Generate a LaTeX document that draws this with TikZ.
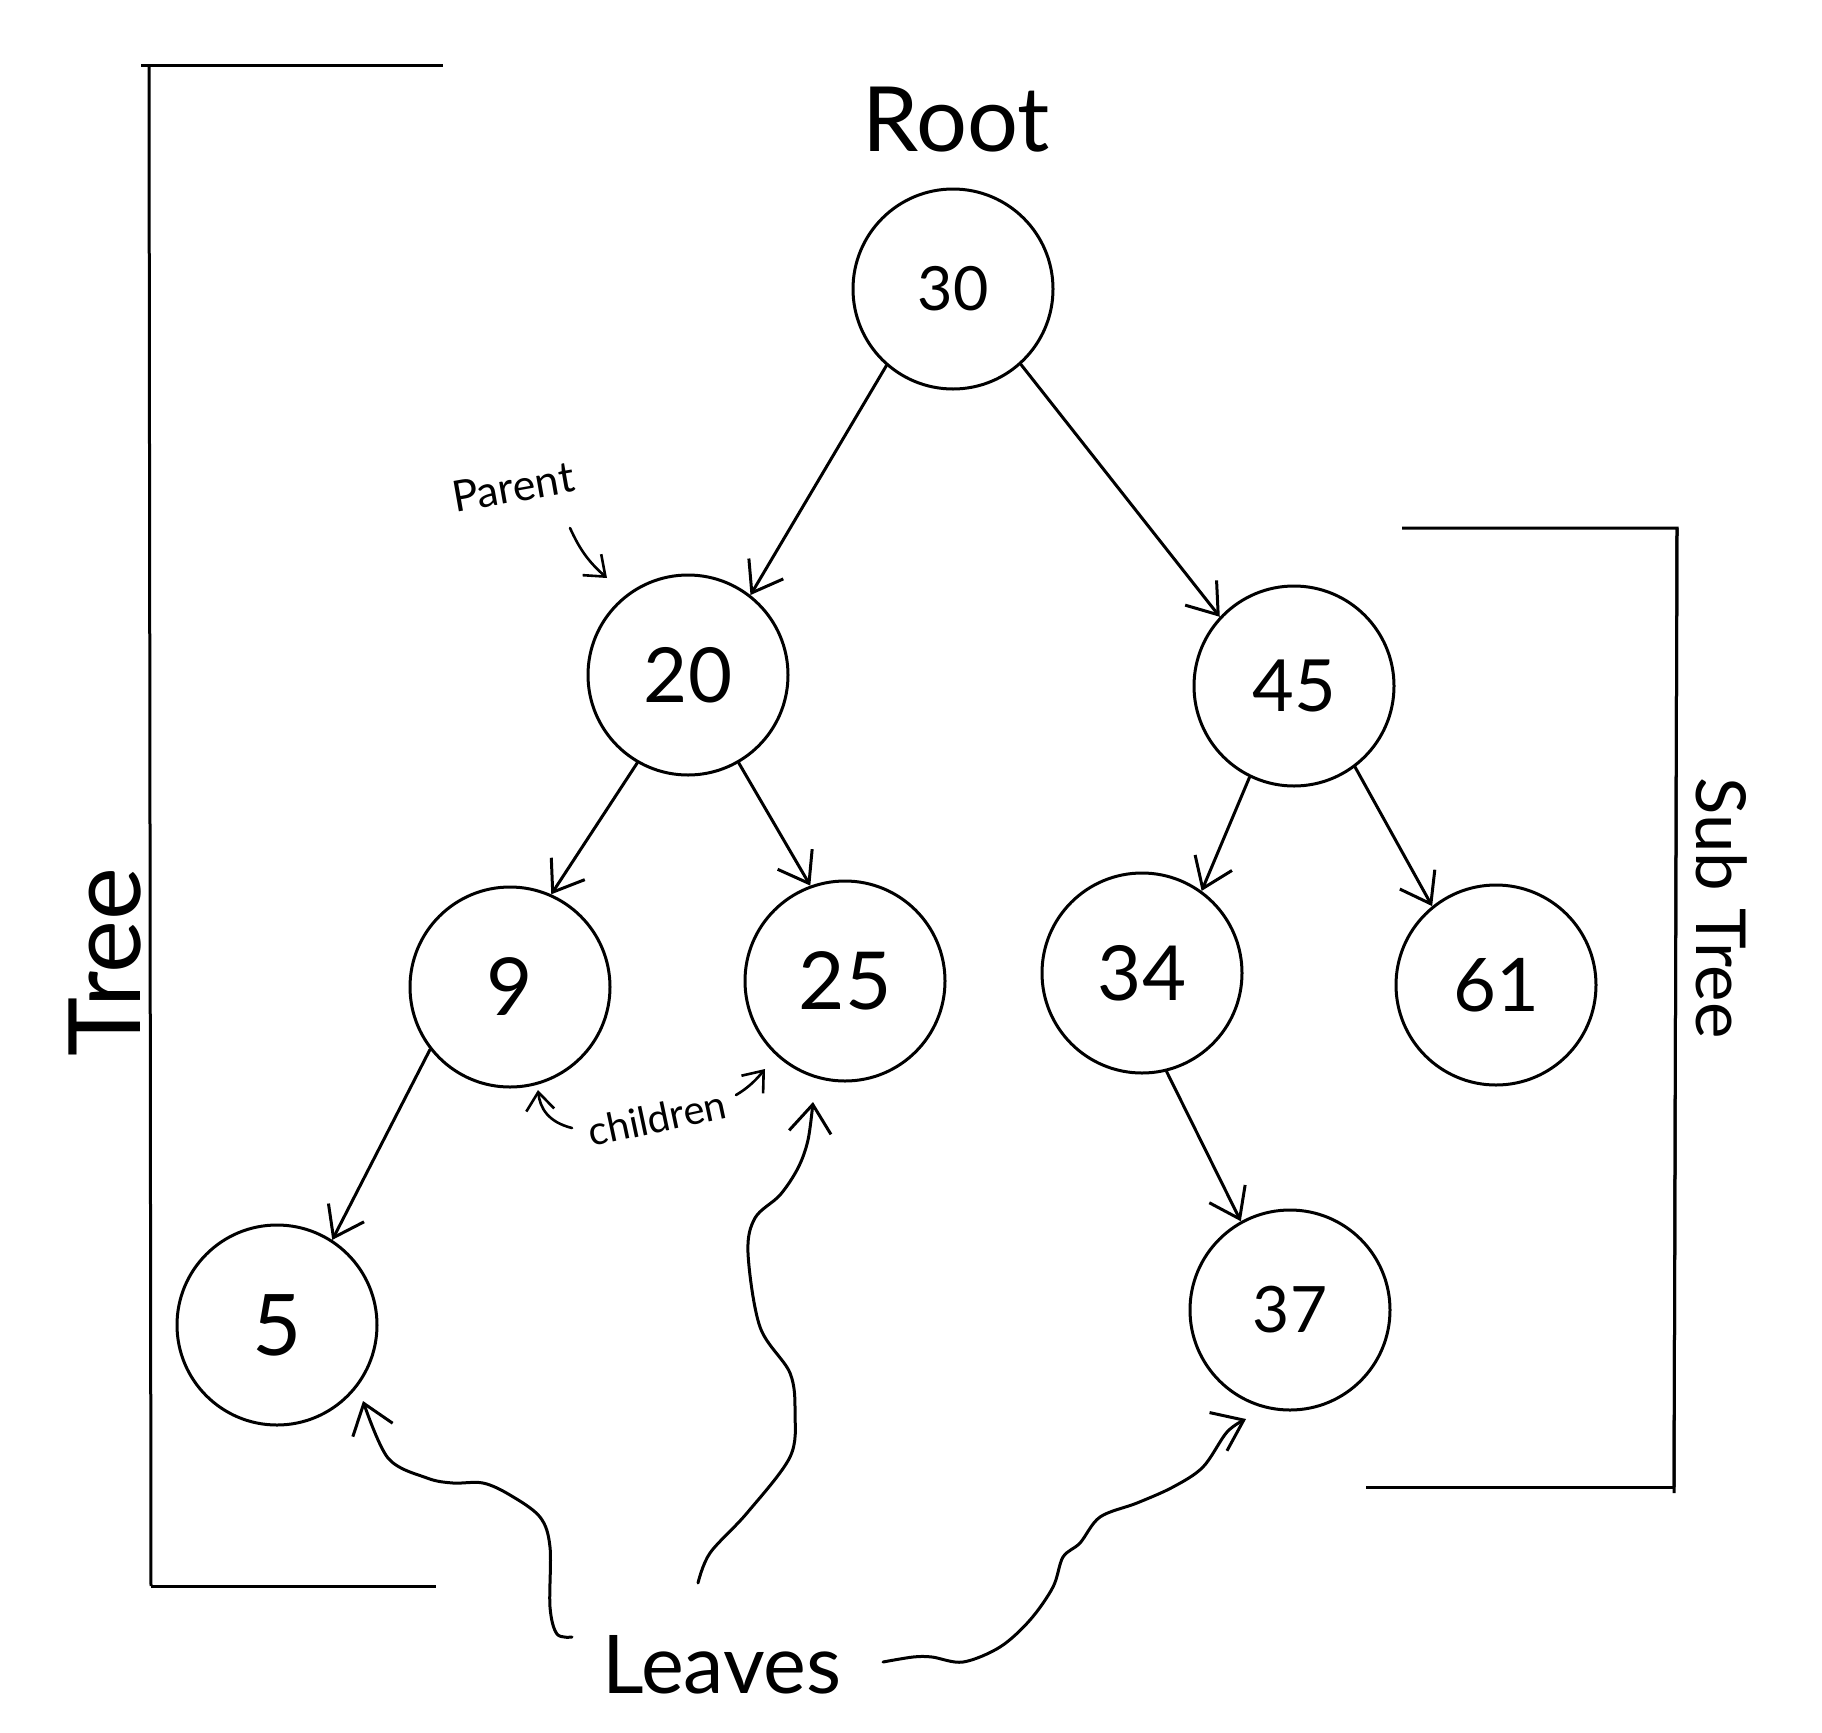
\documentclass[tikz,border=0pt]{standalone}
\usepackage{fontspec}
\setmainfont{Lato}
\usetikzlibrary{arrows.meta}
\newcommand\myfs[1]{\fontsize{#1}{#1}\selectfont}
\begin{document}
\begin{tikzpicture}[x=1pt,y=-1pt,
  tnode/.style={draw, circle, line width=3pt, minimum size=200pt, inner sep=0pt},
  edgearrow/.style={line width=3pt, line cap=round, -{Straight Barb[length=28pt,width=40pt,line width=3pt]}},
  curvearrow/.style={line width=3pt, line cap=round, line join=round, -{Straight Barb[length=28pt,width=42pt,line width=3pt]}},
  smallarrow/.style={line width=2.6pt, line cap=round, -{Straight Barb[length=18pt,width=28pt,line width=2.6pt]}},
  bracket/.style={line width=3pt},
  lbl/.style={inner sep=0pt}]
\fill[white] (0,0) rectangle (1822,1732);
\useasboundingbox (0,0) rectangle (1822,1732);

% tree nodes
\node[tnode, font=\myfs{61}] (n30) at (953,289) {30};
\node[tnode, font=\myfs{76}] (n20) at (688,675) {20};
\node[tnode, font=\myfs{72}] (n45) at (1294,686) {45};
\node[tnode, font=\myfs{80}] (n9)  at (510,987) {9};
\node[tnode, font=\myfs{80}] (n25) at (845,981) {25};
\node[tnode, font=\myfs{76}] (n34) at (1142,973) {34};
\node[tnode, font=\myfs{74}] (n61) at (1496,985) {61};
\node[tnode, font=\myfs{85}] (n5)  at (277,1325) {5};
\node[tnode, font=\myfs{64}] (n37) at (1290,1310) {37};

% edges
\draw[edgearrow] (n30.-131) -- (n20.52);
\draw[edgearrow] (n30.-48) -- (n45.137);
\draw[edgearrow] (n20.-120) -- (n9.66);
\draw[edgearrow] (n20.-60) -- (n25.110);
\draw[edgearrow] (n45.-116) -- (n34.54);
\draw[edgearrow] (n45.-53) -- (n61.129);
\draw[edgearrow] (n9.-142) -- (n5.57);
\draw[edgearrow] (n34.-76) -- (n37.119);

% labels
\node[lbl, font=\myfs{90}] (root) at (956,120) {Root};
\node[lbl, font=\myfs{43}, rotate=10] (parent) at (513,487) {Parent};
\node[lbl, font=\myfs{40}, rotate=12] (children) at (657,1118) {children};
\node[lbl, font=\myfs{100}, rotate=90] (tree) at (105,962) {Tree};
\node[lbl, font=\myfs{69}, rotate=-90] (subtree) at (1722,908) {Sub Tree};
\node[lbl, font=\myfs{81}, anchor=base] (leaves) at (722,1693) {Leaves};

% brackets
\coordinate (ta) at (443,65);
\coordinate (tb) at (149,65);
\coordinate (tc) at (151,1586);
\coordinate (td) at (436,1586);
\draw[bracket] (141,65) -- (ta);
\draw[bracket] (tb) -- (tc);
\draw[bracket] (tc) -- (td);
\coordinate (sa) at (1402,528);
\coordinate (sb) at (1677,528);
\coordinate (sc) at (1674,1493);
\coordinate (sd) at (1366,1487);
\draw[bracket] (sa) -- (sb) -- (1674,1487);
\draw[bracket] (1677,528) -- (sc);
\draw[bracket] (1674,1487) -- (sd);

% small arrows
\coordinate (pa) at (570,528);
\coordinate (pb) at (607,578);
\draw[smallarrow] (pa) to[bend right=12] (pb);
\coordinate (ca) at (572,1128);
\coordinate (cb) at (538,1090);
\draw[smallarrow] (ca) .. controls (548,1122) and (540,1108) .. (cb);
\coordinate (cc) at (736,1095);
\coordinate (cd) at (765,1069);
\draw[smallarrow] (cc) .. controls (748,1088) and (756,1080) .. (cd);

% leaves curves
\coordinate (l1) at (572,1637);
\coordinate (t5) at (363,1401);
\draw[curvearrow] plot[smooth, tension=0.55] coordinates {(l1) (557,1634) (550,1607) (550,1547) (540,1517) (510,1495) (483,1483) (453,1483) (427,1478) (388,1458) (t5)};
\coordinate (l2) at (698,1583);
\coordinate (t25) at (813,1102);
\draw[curvearrow] plot[smooth, tension=0.55] coordinates {(l2) (710,1553) (747,1513) (790,1457) (795,1413) (790,1373) (760,1327) (748,1253) (755,1218) (780,1195) (798,1168) (808,1140) (t25)};
\coordinate (l3) at (883,1662);
\coordinate (t37) at (1246,1419);
\draw[curvearrow] plot[smooth, tension=0.55] coordinates {(l3) (913,1657) (932,1657) (963,1662) (1000,1647) (1030,1620) (1053,1587) (1063,1557) (1080,1543) (1100,1517) (1137,1503) (1173,1487) (1203,1467) (1227,1432) (t37)};
\end{tikzpicture}
\end{document}
